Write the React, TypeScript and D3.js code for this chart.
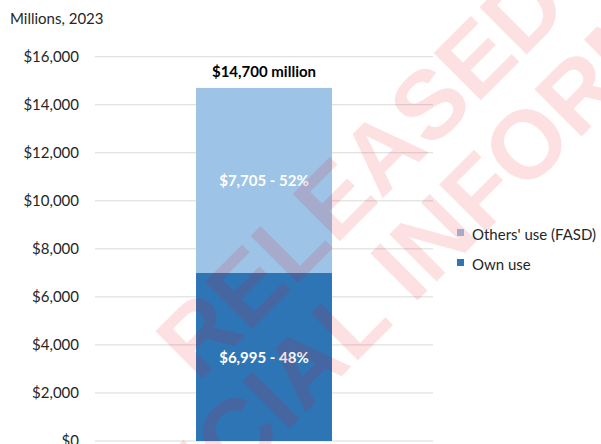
import React from "react";
import * as d3 from "d3";

const categories = ["2023"];
const seriesNames = ["Own use", "Others' use (FASD)"];
const ownUse = [6995];
const othersUse = [7705];
const percentOwn = [48];
const percentOthers = [52];
const totalLabels = ["$14,700 million"];
const yTicks = [0, 2000, 4000, 6000, 8000, 10000, 12000, 14000, 16000];
const watermarkLines = ["RELEASED UNDER THE", "OFFICIAL INFORMATION ACT"];

const W = 601;
const H = 444;
const FONT = "Lato, 'Open Sans', sans-serif";
const COLORS = { own: "#2E75B6", others: "#9DC3E6", grid: "#D9D9D9", text: "#262626" };

export default function App() {
  const y = d3.scaleLinear().domain([0, 16000]).range([441, 56.7]);
  const x = d3.scaleBand().domain(categories).range([95, 433]).paddingInner(0).paddingOuter(0.743);
  const fmt = (v: number) => "$" + d3.format(",")(v);

  const stackData = categories.map((c, i) => ({ cat: c, own: ownUse[i], others: othersUse[i] }));
  const stack = d3.stack<any>().keys(["own", "others"])(stackData);

  return (
    <svg width={W} height={H} style={{ position: "absolute", left: 0, top: 0, display: "block" }} fontFamily={FONT}>
      <rect width={W} height={H} fill="#fff" />
      <text x={10} y={24} fontSize={15} fill={COLORS.text}>Millions, 2023</text>
      {yTicks.map((t) => (
        <g key={t}>
          <line x1={95} x2={433} y1={y(t)} y2={y(t)} stroke={COLORS.grid} strokeWidth={1} />
          <text x={79} y={y(t)} dy="0.36em" textAnchor="end" fontSize={15} fill={COLORS.text}>
            {fmt(t)}
          </text>
        </g>
      ))}
      {stack.map((layer) => (
        <g key={layer.key} fill={layer.key === "own" ? COLORS.own : COLORS.others}>
          {layer.map((d, i) => (
            <rect
              key={i}
              x={x(categories[i])}
              width={x.bandwidth()}
              y={y(d[1])}
              height={y(d[0]) - y(d[1])}
            />
          ))}
        </g>
      ))}
      {categories.map((c, i) => {
        const cx = (x(c) as number) + x.bandwidth() / 2;
        const total = ownUse[i] + othersUse[i];
        return (
          <g key={c}>
            <text x={cx} y={y(ownUse[i]) + 90} textAnchor="middle" fontSize={15} fontWeight={700} fill="#fff">
              {`${fmt(ownUse[i])} - ${percentOwn[i]}%`}
            </text>
            <text x={cx} y={y(total) + 98.5} textAnchor="middle" fontSize={15} fontWeight={700} fill="#fff">
              {`${fmt(othersUse[i])} - ${percentOthers[i]}%`}
            </text>
            <text x={cx} y={y(total) - 11} textAnchor="middle" fontSize={15} fontWeight={700} fill="#000">
              {totalLabels[i]}
            </text>
          </g>
        );
      })}
      {[1, 0].map((k, j) => (
        <g key={k} transform={`translate(457,${229 + j * 30})`}>
          <rect width={7} height={7} fill={k === 1 ? COLORS.others : COLORS.own} />
          <text x={15} y={11} fontSize={15} fill={COLORS.text}>{seriesNames[k]}</text>
        </g>
      ))}
      <g fill="rgb(240,0,10)" fillOpacity={0.12} fontFamily="'Liberation Sans', Arial, sans-serif" fontWeight={700} fontSize={97}>
        <text transform="translate(198,383) rotate(-45)">{watermarkLines[0]}</text>
        <text transform="translate(79,639) rotate(-45)">{watermarkLines[1]}</text>
      </g>
    </svg>
  );
}
